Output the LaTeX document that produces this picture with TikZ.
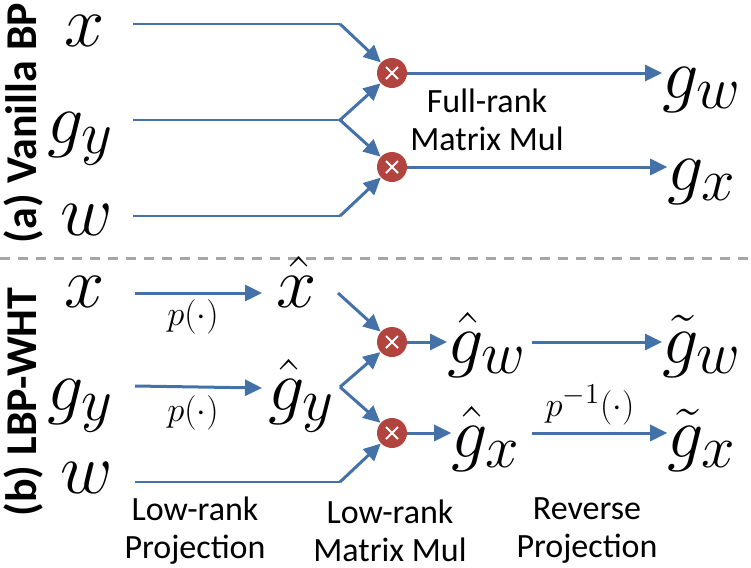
\documentclass[tikz,border=0pt]{standalone}
\usepackage{fontspec}
\setsansfont{Carlito}
\usetikzlibrary{arrows.meta}
\definecolor{Wire}{HTML}{4472A8}
\definecolor{MulRed}{HTML}{B24440}
\definecolor{SepGray}{HTML}{A6A6A6}
% math labels: CM math stops at 24.88pt, so scale up the box
\newcommand{\msym}[1]{\scalebox{1.45}{\fontsize{24.88}{28}\selectfont$#1$}}
\tikzset{
  sym/.style={anchor=base, inner sep=0pt},
  op/.style={inner sep=0pt, font=\fontsize{19}{22}\selectfont},
  note/.style={align=center, inner sep=0pt, font=\sffamily\fontsize{17}{19}\selectfont},
  side/.style={rotate=90, inner sep=0pt, font=\sffamily\bfseries\fontsize{22}{24}\selectfont},
  mul/.style={circle, fill=MulRed, minimum size=15pt, inner sep=0pt,
    path picture={\draw[white, line width=1pt]
      ([shift={(-3pt,-3pt)}]path picture bounding box.center) -- ([shift={(3pt,3pt)}]path picture bounding box.center)
      ([shift={(-3pt,3pt)}]path picture bounding box.center) -- ([shift={(3pt,-3pt)}]path picture bounding box.center);}},
  wire/.style={Wire, line width=0.8pt},
  arr/.style={Wire, line width=1.5pt, -{Triangle[length=8.5pt,width=8pt]}},
}
\begin{document}
\begin{tikzpicture}[x=0.5pt, y=-0.5pt]
  \useasboundingbox (0,0) rectangle (751,568);
  % Panel titles
  \node[side] (ta) at (24,123) {(a) Vanilla BP};
  \node[side] (tb) at (24,402) {(b) LBP-WHT};
  % Separator
  \draw[SepGray, line width=1.5pt, dash pattern=on 5pt off 4pt] (0,258) -- (751,258);

  % (a) inputs and outputs
  \node[sym] (xa) at (85,46) {\msym{x}};
  \node[sym] (gya) at (81,143) {\msym{g_y}};
  \node[sym] (wa) at (87,235) {\msym{w}};
  \node[sym] (gwa) at (702,98) {\msym{g_w}};
  \node[sym] (gxa) at (702,190) {\msym{g_x}};
  \node[mul] (m1) at (392,73) {};
  \node[mul] (m2) at (392,167) {};
  \node[note] (fr) at (487,120) {Full-rank\\Matrix Mul};
  \coordinate (xa-s) at (133,24);  \coordinate (xa-k) at (340,24);
  \coordinate (gya-s) at (133,120); \coordinate (gya-k) at (340,120);
  \coordinate (wa-s) at (133,216);  \coordinate (wa-k) at (340,216);
  % (a) wires
  \draw[wire] (xa-s) -- (xa-k);
  \draw[wire] (gya-s) -- (gya-k);
  \draw[wire] (wa-s) -- (wa-k);
  \draw[arr] (xa-k) -- (m1);
  \draw[arr] (gya-k) -- (m1);
  \draw[arr] (gya-k) -- (m2);
  \draw[arr] (wa-k) -- (m2);
  \draw[arr] (m1) -- (m1 -| gwa.west);
  \draw[arr] (m2) -- (m2 -| gxa.west);

  % (b) inputs, projections and outputs
  \node[sym] (xb) at (85,307) {\msym{x}};
  \node[sym] (gyb) at (81,410) {\msym{g_y}};
  \node[sym] (wb) at (87,493) {\msym{w}};
  \node[sym] (xh) at (297,307) {\msym{\hat{x}}};
  \node[sym] (gyh) at (302,410) {\msym{\hat{g}_y}};
  \node[sym] (gwh) at (487,363) {\msym{\hat{g}_w}};
  \node[sym] (gxh) at (486,457) {\msym{\hat{g}_x}};
  \node[sym] (gwt) at (702,363) {\msym{\tilde{g}_w}};
  \node[sym] (gxt) at (702,457) {\msym{\tilde{g}_x}};
  \node[mul] (m3) at (392,342) {};
  \node[mul] (m4) at (392,433) {};
  \node[op] (p1) at (193,317) {$p(\cdot)$};
  \node[op] (p2) at (193,413) {$p(\cdot)$};
  \node[op] (pinv) at (590,405) {$p^{-1}(\cdot)$};
  \coordinate (xb-s) at (135,293);  \coordinate (xb-e) at (262,293);
  \coordinate (gyb-s) at (135,386); \coordinate (gyb-e) at (262,388);
  \coordinate (xh-k) at (338,293);  \coordinate (gyh-k) at (340,387);
  \coordinate (wb-s) at (135,482);  \coordinate (wb-k) at (340,482);
  \coordinate (gwh-s) at (532,342); \coordinate (gxh-s) at (532,433);
  % (b) wires
  \draw[arr] (xb-s) -- (xb-e);
  \draw[arr] (gyb-s) -- (gyb-e);
  \draw[wire] (wb-s) -- (wb-k);
  \draw[arr] (xh-k) -- (m3);
  \draw[arr] (gyh-k) -- (m3);
  \draw[arr] (gyh-k) -- (m4);
  \draw[arr] (wb-k) -- (m4);
  \draw[arr] (m3) -- (m3 -| gwh.west);
  \draw[arr] (m4) -- (m4 -| gxh.west);
  \draw[arr] (gwh-s) -- (gwh-s -| gwt.west);
  \draw[arr] (gxh-s) -- (gxh-s -| gxt.west);

  % Stage captions
  \node[note] (c1) at (195,531) {Low-rank\\Projection};
  \node[note] (c2) at (390,531) {Low-rank\\Matrix Mul};
  \node[note] (c3) at (587,531) {Reverse\\Projection};
\end{tikzpicture}
\end{document}
